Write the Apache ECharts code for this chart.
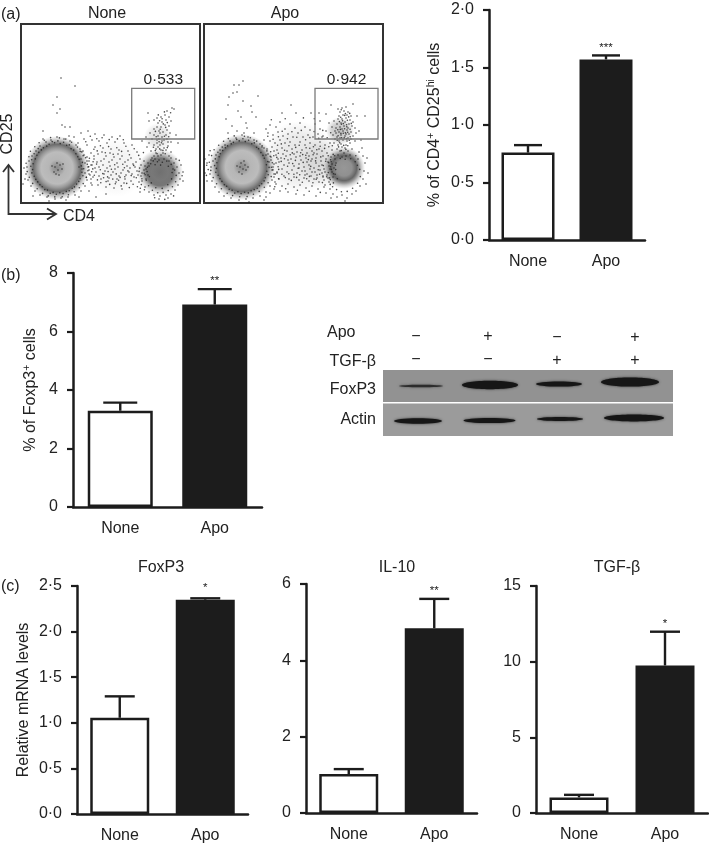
<!DOCTYPE html>
<html><head><meta charset="utf-8">
<script src="https://cdn.jsdelivr.net/npm/echarts@6/dist/echarts.min.js"></script>
<style>html,body{margin:0;padding:0;background:#fff}#c{width:709px;height:844px}</style>
</head><body><div id="c"></div>
<script>
const categories = ['None', 'Apo'];

const cd25Values = [0.76, 1.57];
const cd25Errors = [0.825, 1.605];
const cd25Ticks = ['0·0', '0·5', '1·0', '1·5', '2·0'];

const foxp3Pct = [3.29, 6.92];
const foxp3PctErrors = [3.57, 7.45];
const foxp3PctTicks = ['0', '2', '4', '6', '8'];

const foxp3Mrna = [1.055, 2.35];
const foxp3MrnaErrors = [1.29, 2.365];
const foxp3MrnaTicks = ['0·0', '0·5', '1·0', '1·5', '2·0', '2·5'];

const il10Mrna = [1.02, 4.84];
const il10MrnaErrors = [1.15, 5.61];
const il10Ticks = ['0', '2', '4', '6'];

const tgfMrna = [1.03, 9.75];
const tgfMrnaErrors = [1.2, 11.98];
const tgfTicks = ['0', '5', '10', '15'];

// flow cytometry: gates and population centres, in channel units
const gateNone = [110.7, 64, 173.7, 114.7];
const gateApo = [111, 64, 174, 114.7];
const mainNone = [36, 35, 32, 33];
const sideNone = [139, 31, 23, 28];
const mainApo = [38, 36, 34, 33];
const sideApo = [140, 35, 21, 27];
// diffuse density of events: x, y, rx, ry, density
const smearNone = [[95,36,48,30,.07],[137,66,14,28,.16]];
const smearApo = [[95,46,54,36,.14],[120,40,34,26,.12],[136,72,14,30,.32]];

// visible events estimated from the plots
const dotsNone = [
[40,125],[54,117],[36,106],[32,98],[39,94],[36,90],[41,78],[44,76],[22,72],[49,76],
[60,70],[67,72],[74,69],[83,68],[91,66],[99,67],[53,66],[63,64],[71,63],[78,62],[86,60],[94,61],[103,60],[111,58],[57,60],[66,58],[74,56],[82,55],[90,54],[98,53],[107,52],[116,51],
[62,52],[70,50],[77,49],[85,47],[93,46],[101,47],[110,45],[119,44],[66,46],[73,44],[80,42],[88,41],[96,40],[104,41],[112,39],[120,38],[64,40],[71,38],[78,36],[86,35],[94,34],[102,33],[109,35],[116,32],[123,33],
[68,33],[75,31],[83,29],[90,28],[98,27],[105,28],[113,26],[120,27],[72,26],[80,24],[87,22],[95,21],[103,20],[110,22],[118,21],[125,24],[70,20],[77,18],[85,16],[93,15],[101,14],[70,38],[74,35],[82,38],[84,32],[89,37],[92,31],[97,36],[100,30],[106,37],[108,31],[111,29],[114,36],[117,28],[121,30],[124,37],[127,28],[88,25],[96,24],[104,24],[78,27],[69,28],[64,30],[61,34],[76,41],[83,44],[91,43],[99,44],[107,43],[115,41],[60,44],[58,36],[68,42],[73,47],[81,51],[89,50],[97,49],
[119,11],[85,9],[68,12],[75,6],
[126,56],[130,52],[135,50],[140,48],[145,53],[150,51],[128,60],[133,58],[137,56],[142,59],[147,57],[131,64],[136,63],[141,62],[146,64],[150,61],[133,68],[137,67],[141,66],[145,68],[138,72],[142,71],[146,73],[149,70],[133,74],[136,76],[140,76],[144,78],[148,77],[137,80],[141,81],[145,83],[150,82],[133,83],[136,85],[140,86],[144,88],[148,86],[128,82],[127,90],[151,95],[146,92],[153,94],[121,62],[125,66],[129,70],[155,68],[157,60],[136,60],[138,64],[140,53],[143,55],[135,54],[139,70],[143,63],[147,61],[139,58],[142,50],[137,47],[133,47],[148,47],[150,45],[131,45],
[123,42],[127,40],[130,43],[134,44],[138,43],[143,44],[148,42],[153,40],[156,36],[158,30],[159,24],[157,18],[154,13],[150,9],[145,8],[139,7],[133,8],[128,11],[124,16],[121,22],[125,34],[128,37],[152,34],[155,44],[160,38],[162,31],[162,22],[147,5],[138,4],
[36,66],[30,63],[43,64],[25,61],[49,62],[19,57],[55,58],[15,52],[59,54],[11,47],[63,48],[8,42],[66,42],[6,36],[67,36],[5,29],[68,29],[7,23],[66,23],[10,17],[64,17],[14,12],[60,12],[19,8],[54,8],[26,6],[47,6],[34,4],[40,5],[22,64],[48,67],[4,24],[3,35],[2,19],[70,24],[71,18],[12,7],[58,6],[28,2],[45,3],
[34,36],[37,33],[39,38],[33,31],[41,34],[36,40],[31,37],[42,39],[35,29],[38,28],
[14.3,44.1],[17.8,50.6],[22.4,55.2],[28.1,58.7],[33.6,60.3],[39.2,59.4],[45.7,57.8],[50.1,54.2],[54.9,49.3],[58.2,43.7],[60.3,37.1],[60.9,30.8],[59.1,24.2],[55.6,18.9],[51.2,14.7],[45.3,11.6],[38.8,10.2],[32.1,10.6],[26.4,12.9],[21.2,16.3],[16.7,21.1],[13.2,26.8],[11.6,33.4],[12.1,39.2],
[15.9,47.7],[20.3,53.1],[25.7,56.9],[31.2,61.4],[36.9,62.1],[42.6,60.8],[48.3,58.1],[52.7,52.9],[56.8,46.2],[61.4,40.6],[62.7,34.2],[61.9,27.3],[57.8,21.6],[53.4,16.1],[48.2,12.3],[42.1,9.4],[35.3,8.7],[29.2,9.8],[23.8,13.4],[18.9,18.2],[14.8,23.6],[10.9,30.1],[9.8,36.7],[10.7,43.2],[13.1,49.3],[17.2,54.4],
[6.2,31.4],[5.1,39.8],[7.9,46.3],[9.4,51.7],[13.8,56.3],[18.1,60.2],[23.3,62.8],[29.6,65.4],[38.4,65.1],[44.8,63.9],[50.6,60.7],[56.4,55.9],[60.8,51.1],[64.6,45.2],[66.3,38.7],[66.9,32.3],[65.4,25.6],[62.2,19.4],[58.3,15.2],[53.1,11.2],[47.4,8.3],[41.2,6.2],[33.8,6.1],[27.2,7.1],[21.6,9.6],[16.2,14.3],[11.7,19.6],[8.3,25.7],
[68.4,44.7],[72.1,41.3],[75.6,38.9],[79.3,33.2],[81.8,29.4],[86.6,26.1],[90.4,33.7],[93.7,38.2],[95.2,29.1],[99.1,25.6],[101.8,38.7],[103.4,35.2],[106.9,32.1],[110.2,27.4],[112.7,37.6],[115.3,25.2],[118.6,34.9],[120.9,24.3],[123.2,29.8],[126.1,31.4],[70.7,31.2],[73.3,27.7],[76.4,23.1],[79.8,20.3],[82.6,25.3],[85.1,21.4],[88.7,18.6],[91.8,23.9],[94.3,19.2],[97.6,22.8],[100.2,17.1],[105.7,19.6],[108.3,15.4],[112.1,18.7],[116.4,16.2],[120.3,18.4],[65.3,25.8],[67.7,36.3],[72.9,53.8],[76.2,52.1],[79.4,57.3],[84.3,50.2],[87.6,56.4],[92.2,48.7],[95.8,55.3],[100.6,51.6],[104.9,56.7],[108.4,48.3],[113.2,54.2],[117.7,47.6],[122.4,50.4],[64.8,61.2],[69.3,66.7],[75.8,64.2],[81.1,65.3],[88.2,63.4],[96.4,64.1],[102.3,63.3],[62.1,47.3],[59.2,51.6],[71.8,34.1],[87.1,31.4],[103.8,26.3],[118.1,31.6],
[132.2,42.1],[136.4,41.2],[141.3,40.7],[145.8,41.9],[150.2,38.6],[153.7,32.9],[155.2,27.6],[154.6,21.3],[151.4,16.2],[147.2,12.4],[142.1,10.6],[136.7,10.3],[131.4,12.7],[127.6,17.2],[125.3,22.7],[124.1,28.3],[126.4,35.8],[129.7,39.2],[134.1,38.3],[139.6,37.9],[147.3,36.8],[151.1,30.4],[150.6,24.1],[146.8,18.3],[141.2,14.6],[134.8,15.3],[130.3,20.1],[128.4,26.4],[158.3,42.6],[161.1,27.3],[123.4,13.2],[119.3,14.8],[133.7,5.2],[143.8,3.6],[152.6,7.1],
[134.3,52.4],[138.7,54.1],[141.9,52.6],[144.2,49.3],[146.3,55.4],[136.1,49.2],[132.4,55.7],[140.4,60.3],[143.4,66.8],[135.2,66.2],[138.1,61.2],[147.7,66.3],[139.2,73.8],[134.4,71.6],[144.7,75.6],[142.3,79.1],[138.6,82.3],[146.3,80.4],[141.1,84.2],[143.4,91.1],[149.6,90.3],[137.3,88.1]
];

const dotsApo = [
[39,122],[30,118],[33,111],[25,106],[54,107],[39,102],[24,98],[34,92],[48,91],[22,84],[52,86],[42,80],[43,75],[87,98],[78,90],[92,90],[107,90],[127,98],[149,99],[153,87],[161,87],[115,90],[122,89],[35,118],[29,110],[47,97],[37,86],[28,77],[40,70],[33,72],
[62,74],[66,78],[72,76],[76,81],[81,74],[86,79],[91,75],[96,80],[101,76],[106,73],[111,79],[116,74],[64,70],[69,68],[74,71],[79,67],[84,69],[89,66],[94,70],[99,66],[104,68],[109,66],[114,69],[119,67],[60,63],[66,62],[71,60],[76,63],[81,60],[86,61],[91,58],[96,61],[101,58],[106,60],[111,58],[116,61],[121,58],[126,60],
[58,56],[63,54],[68,56],[73,53],[78,55],[83,52],[88,54],[93,51],[98,53],[103,50],[108,52],[113,49],[118,52],[123,50],[128,53],[62,48],[67,46],[72,48],[77,45],[82,47],[87,44],[92,46],[97,43],[102,45],[107,42],[112,45],[117,42],[122,44],[127,46],[131,44],
[65,41],[70,39],[75,41],[80,38],[85,40],[90,37],[95,39],[100,36],[105,38],[110,35],[115,37],[120,34],[125,37],[68,33],[73,31],[78,34],[83,31],[88,33],[93,30],[98,32],[103,29],[108,31],[113,28],[118,30],[123,28],[128,31],
[70,26],[75,24],[80,27],[85,24],[90,26],[95,23],[100,25],[105,22],[110,24],[115,21],[120,23],[125,21],[72,19],[78,17],[84,19],[90,16],[96,18],[102,15],[108,17],[114,14],[120,16],[76,12],[66,10],[84,11],[62,6],[92,9],[100,8],[112,7],[127,5],
[105,47],[110,50],[115,54],[119,47],[124,41],[112,40],[118,38],[108,44],[103,41],[96,47],[90,49],[84,43],[79,49],[74,44],[70,52],[95,35],[101,32],[106,34],[111,31],[116,33],[121,31],[126,34],[119,26],[113,25],[107,27],[101,28],[124,25],[129,26],[128,39],[130,35],[132,40],
[130,60],[134,58],[138,56],[142,58],[146,60],[131,64],[135,62],[139,63],[143,62],[147,64],[151,62],[129,68],[133,66],[137,68],[141,67],[145,69],[149,67],[131,72],[135,71],[139,72],[143,73],[147,71],[152,70],[128,76],[132,75],[136,76],[140,77],[144,75],[148,77],[151,75],[133,79],[137,80],[141,81],[145,79],[149,81],[130,82],[134,84],[138,84],[142,85],[146,83],[135,87],[139,88],[143,88],[147,87],[136,91],[140,92],[144,91],[134,94],[138,95],[142,96],[125,80],[122,72],[118,66],[116,82],[155,72],[157,63],[136,52],[140,50],[144,52],[134,48],[138,46],[142,47],[146,48],[137,59],[141,55],[133,54],[148,54],[132,70],[138,74],[142,69],[144,65],[136,65],
[122,10],[126,14],[129,9],[133,6],[138,8],[143,5],[148,9],[152,12],[156,17],[159,24],[160,32],[161,40],[159,47],[155,51],[121,18],[119,27],[154,44],[158,55],[163,45],[164,30],[162,19],[141,2],
[38,68],[32,65],[44,66],[26,62],[50,63],[21,58],[56,59],[16,53],[60,55],[12,48],[64,49],[9,42],[67,43],[7,36],[69,36],[6,29],[70,29],[8,22],[68,23],[11,16],[66,17],[15,11],[62,11],[20,7],[56,7],[27,5],[49,5],[35,3],[42,4],[3,40],[1,30],[3,22],[1,44],[5,48],[72,40],[73,30],[71,21],[70,14],[60,3],[45,1],[24,70],[50,70],
[36,36],[39,34],[41,38],[35,31],[42,33],[37,40],[33,37],[44,36],[38,29],[40,42],
[15.1,46.2],[18.7,52.4],[23.6,57.1],[29.4,60.6],[35.2,62.1],[41.3,61.4],[47.8,59.2],[52.6,55.8],[56.9,50.4],[60.3,44.7],[62.4,38.2],[62.8,31.7],[61.3,25.3],[57.7,19.2],[53.2,14.8],[47.1,12.3],[40.6,10.7],[33.9,11.2],[28.1,12.8],[22.6,16.7],[17.9,21.6],[14.1,27.8],[12.4,34.6],[12.9,40.3],
[16.3,49.3],[21.4,55.2],[27.2,59.1],[32.7,63.6],[38.9,64.2],[44.6,62.7],[50.3,60.1],[54.6,54.2],[58.9,47.6],[63.7,41.4],[65.1,35.6],[64.2,28.3],[60.1,22.1],[55.4,17.3],[50.2,13.4],[44.3,10.1],[37.1,9.4],[30.8,9.9],[25.2,13.7],[20.3,18.2],[15.9,24.3],[11.8,30.7],[10.6,37.4],[11.3,44.1],[13.9,50.7],[18.2,55.9],
[6.8,32.6],[5.3,40.7],[7.6,47.4],[10.1,53.2],[14.7,57.8],[19.6,61.7],[24.3,64.4],[30.2,67.1],[40.4,66.8],[46.3,65.2],[52.7,61.9],[58.1,57.3],[62.9,52.1],[66.2,46.8],[68.3,40.2],[68.9,33.1],[67.2,26.4],[64.1,20.2],[60.3,15.7],[55.2,11.6],[49.4,8.7],[43.1,6.4],[35.7,6.3],[28.6,7.4],[23.2,9.7],[17.4,14.2],[12.6,19.3],[9.2,25.4],[2.4,27.6],[4.2,33.4],[2.7,37.8],[6.1,52.3],[74.1,36.2],[74.6,24.3],[72.8,45.6],
[66.7,51.2],[69.8,47.3],[74.3,49.8],[77.2,41.6],[80.4,44.2],[83.6,36.7],[86.2,48.3],[88.7,39.4],[91.4,42.6],[94.1,34.8],[96.7,50.2],[99.2,40.6],[101.8,47.7],[104.3,43.4],[106.7,36.6],[109.1,48.2],[111.6,42.1],[114.2,33.2],[116.8,46.1],[119.3,37.4],[121.7,41.8],[124.2,47.3],[126.6,36.2],[129.2,48.6],[131.4,37.7],[67.4,35.8],[71.2,28.9],[74.7,33.6],[77.9,28.7],[81.3,25.4],[84.8,29.2],[87.3,22.6],[89.9,28.7],[92.6,25.6],[95.7,28.3],[98.3,20.7],[102.7,24.2],[105.4,26.6],[108.9,20.2],[112.2,23.7],[115.6,28.7],[118.4,20.4],[122.7,26.3],[126.3,23.4],[129.6,29.3],[131.7,33.4],[73.6,57.8],[77.3,59.1],[80.6,52.8],[84.9,57.2],[88.3,50.1],[91.7,55.6],[95.2,57.7],[98.7,48.4],[102.1,55.3],[105.8,54.7],[109.4,56.2],[112.8,53.3],[116.2,56.7],[120.6,54.6],[124.8,56.3],[128.3,57.2],[69.1,63.7],[74.4,66.2],[78.2,71.7],[83.4,64.3],[87.9,71.3],[92.8,65.7],[97.3,72.6],[101.6,63.2],[105.9,65.4],[110.1,71.4],[114.7,64.6],[118.8,72.6],[123.2,65.3],[126.7,70.2],[70.8,16.2],[81.7,14.3],[93.4,12.7],[105.2,11.8],[116.3,10.6],[63.8,66.7],[67.3,83.2],[81.2,84.3],[99.4,85.1],[110.3,84.2],
[127.2,41.3],[131.2,28.7],[133.3,24.2],[129.4,20.1],[126.2,18.6],[124.3,30.4],[151.2,41.2],[155.7,33.6],[156.3,26.4],[153.6,19.8],[148.6,14.7],[143.2,11.6],[137.4,11.2],[132.6,13.4],[128.6,16.3],[125.6,25.1],[126.6,43.2],[130.7,47.3],[136.2,44.6],[141.2,43.8],[146.7,44.3],[151.8,47.2],[153.4,37.8],[127.3,33.6],[124.7,40.2],
[134.6,56.1],[137.3,52.4],[139.7,57.6],[141.9,53.6],[143.8,57.3],[135.7,60.2],[133.2,62.7],[137.6,65.3],[140.2,65.1],[142.6,64.2],[145.3,62.8],[134.1,67.3],[136.9,69.6],[139.3,69.7],[141.4,70.3],[143.7,70.8],[146.2,66.3],[133.8,73.3],[136.3,73.6],[140.6,74.2],[142.8,76.3],[146.1,73.8],[137.4,78.7],[139.3,79.4],[142.6,78.2],[135.4,81.4],[138.6,82.3],[143.4,82.7],[147.3,79.6],[136.7,85.7],[140.7,87.6],[144.7,86.1],[137.2,93.2],[141.4,89.4],[145.7,89.6]
];

// blot bands: x, y, half width, half height, darkness, in panel pixels of the membrane
const foxp3Bands = [[38,16,22,1.3,.72],[107,15,28,4.2,1],[176,14,23,2.6,1],[247,12,29,4.6,1]];
const actinBands = [[35,17.5,24,2.7,1],[106.5,17,26,2.6,1],[177,15.5,23,2,1],[251,14.5,30,3.4,1]];

const ink = '#1c1c1c';
const font = '"Liberation Sans", Arial, sans-serif';

const grids = [], xAxes = [], yAxes = [], series = [];

function barPanel(o) {
  const idx = grids.length;
  grids.push({left:o.left, top:o.top, width:o.width, height:o.height});
  xAxes.push({gridIndex:idx, type:'category', data:categories,
    axisLine:{onZero:false, lineStyle:{color:ink,width:2.5}},
    axisTick:{alignWithLabel:true,length:6,lineStyle:{color:ink,width:2.2}},
    axisLabel:{color:'#222',fontFamily:font,fontSize:16,margin:o.xMargin||14}, splitLine:{show:false}});
  yAxes.push({gridIndex:idx, type:'value', min:0, max:o.max, interval:o.max/(o.ticks.length-1),
    axisLine:{show:true,lineStyle:{color:ink,width:2.5}},
    axisTick:{show:true,length:6,lineStyle:{color:ink,width:2.2}},
    splitLine:{show:false},
    axisLabel:{color:'#222',fontFamily:font,fontSize:16,margin:o.yMargin||15,
      formatter:(v)=>o.ticks[Math.round(v/(o.max/(o.ticks.length-1)))]},
    name:o.name||'', nameLocation:'middle', nameRotate:90, nameGap:o.nameGap||40,
    nameTextStyle:{color:'#222',fontFamily:font,fontSize:16,rich:{
      t:{fontFamily:font,fontSize:16,color:'#222'},
      s:{fontFamily:font,fontSize:10.5,color:'#222',verticalAlign:'top',lineHeight:18}}}
  });
  series.push({type:'bar', xAxisIndex:idx, yAxisIndex:idx, barWidth:o.barWidth, silent:true,
    data:o.values.map((v,i)=>({value:v,itemStyle: i===0
      ? {color:'#fff',borderColor:ink,borderWidth:2.5}
      : {color:ink,borderColor:ink,borderWidth:2.5}}))});
  series.push({type:'custom', xAxisIndex:idx, yAxisIndex:idx, silent:true, z:1,
    data:o.values.map((v,i)=>[i,v,o.errors[i]]),
    renderItem:(p,api)=>{
      const a=api.coord([api.value(0),api.value(1)]), b=api.coord([api.value(0),api.value(2)]);
      const st={stroke:ink,lineWidth:2.4,fill:null};
      const ch=[
        {type:'line',shape:{x1:a[0],y1:a[1],x2:b[0],y2:b[1]},style:st},
        {type:'line',shape:{x1:b[0]-o.cap/2,y1:b[1],x2:b[0]+o.cap/2,y2:b[1]},style:st}];
      if(api.value(0)===1) ch.push({type:'text',style:{text:o.star,x:b[0],y:b[1]-(o.starGap||2),
        fill:'#222',fontFamily:font,fontSize:11.5,align:'center',verticalAlign:'bottom'}});
      return {type:'group',children:ch};
    }});
}

barPanel({left:489,top:10,width:156,height:230,max:2,ticks:cd25Ticks,values:cd25Values,errors:cd25Errors,
  barWidth:53,cap:28,star:'***',name:'{t|% of CD4}{s|+}{t| CD25}{s|hi}{t| cells}',nameGap:45});
barPanel({left:73,top:273,width:189,height:234,max:8,ticks:foxp3PctTicks,values:foxp3Pct,errors:foxp3PctErrors,
  barWidth:65,cap:34,star:'**',name:'{t|% of Foxp3}{s|+}{t| cells}',nameGap:33});
barPanel({left:77,top:586,width:171,height:229,max:2.5,ticks:foxp3MrnaTicks,values:foxp3Mrna,errors:foxp3MrnaErrors,
  barWidth:59,cap:30,star:'*',starGap:4,name:'{t|Relative mRNA levels}',nameGap:45});
barPanel({left:306,top:584,width:171,height:229,max:6,ticks:il10Ticks,values:il10Mrna,errors:il10MrnaErrors,
  barWidth:59,cap:30,star:'**'});
barPanel({left:536,top:586,width:172,height:227,max:15,ticks:tgfTicks,values:tgfMrna,errors:tgfMrnaErrors,
  barWidth:59,cap:30,star:'*'});

const ringGrad={type:'radial',x:.5,y:.5,r:.5,colorStops:[
  {offset:0,color:'#8a8a8a'},{offset:.14,color:'#9c9c9c'},{offset:.26,color:'#b6b6b6'},{offset:.5,color:'#bcbcbc'},
  {offset:.62,color:'#999'},{offset:.74,color:'#6c6c6c'},{offset:.86,color:'rgba(90,90,90,.4)'},{offset:1,color:'rgba(120,120,120,0)'}]};
const sideGrad={type:'radial',x:.5,y:.5,r:.5,colorStops:[
  {offset:0,color:'#707070'},{offset:.36,color:'#787878'},{offset:.6,color:'rgba(85,85,85,.8)'},{offset:.8,color:'rgba(90,90,90,.3)'},{offset:1,color:'rgba(120,120,120,0)'}]};
const sideGradApo={type:'radial',x:.5,y:.5,r:.5,colorStops:[
  {offset:0,color:'#979797'},{offset:.38,color:'#909090'},{offset:.6,color:'#666'},{offset:.8,color:'rgba(70,70,70,.35)'},{offset:1,color:'rgba(120,120,120,0)'}]};

function flowPanel(o){
  const idx=grids.length;
  grids.push({left:o.left,top:24,width:179,height:179,show:true,backgroundColor:'#fff',borderColor:'#333',borderWidth:2,z:3});
  xAxes.push({gridIndex:idx,type:'value',min:0,max:179,show:false});
  yAxes.push({gridIndex:idx,type:'value',min:0,max:179,show:false});
  const common={xAxisIndex:idx,yAxisIndex:idx,silent:true,clip:true,z:4};
  series.push(Object.assign({type:'custom',data:o.smear,
    renderItem:(p,api)=>{
      const c=api.coord([api.value(0),api.value(1)]), s=api.size([api.value(2),api.value(3)]);
      const d=api.value(4);
      return {type:'ellipse',shape:{cx:c[0],cy:c[1],rx:s[0],ry:s[1]},
        style:{fill:{type:'radial',x:.5,y:.5,r:.5,colorStops:[
          {offset:0,color:'rgba(60,60,60,'+d+')'},{offset:.6,color:'rgba(60,60,60,'+d*.7+')'},{offset:1,color:'rgba(60,60,60,0)'}]}}};
    }},common));
  series.push(Object.assign({type:'custom',data:[o.main,o.side],
    renderItem:(p,api)=>{
      const c=api.coord([api.value(0),api.value(1)]), s=api.size([api.value(2),api.value(3)]);
      return {type:'ellipse',shape:{cx:c[0],cy:c[1],rx:s[0],ry:s[1]},
        style:{fill:p.dataIndex===0?ringGrad:o.sideGrad}};
    }},common));
  series.push(Object.assign({type:'scatter',data:o.dots,symbolSize:1.6,
    itemStyle:{color:'#1e1e1e',opacity:.8}},common,{z:5}));
  series.push(Object.assign({type:'custom',data:[o.gate],
    renderItem:(p,api)=>{
      const a=api.coord([api.value(0),api.value(3)]), b=api.coord([api.value(2),api.value(1)]);
      return {type:'group',children:[
        {type:'rect',shape:{x:a[0],y:a[1],width:b[0]-a[0],height:b[1]-a[1]},style:{fill:'rgba(0,0,0,0)',stroke:'#7a7a7a',lineWidth:1.3}},
        {type:'text',style:{text:o.label,x:(a[0]+b[0])/2,y:a[1]-1,fill:'#222',fontFamily:font,fontSize:15.5,align:'center',verticalAlign:'bottom'}}
      ]};
    }},common,{z:6}));
}
flowPanel({left:21,main:mainNone,side:sideNone,sideGrad,dots:dotsNone,gate:gateNone,smear:smearNone,label:'0·533'});
flowPanel({left:204,main:mainApo,side:sideApo,sideGrad:sideGradApo,dots:dotsApo,gate:gateApo,smear:smearApo,label:'0·942'});

function blotPanel(top,h,bands,bg){
  const idx=grids.length;
  grids.push({left:383,top:top,width:290,height:h,show:true,backgroundColor:bg,borderWidth:0});
  xAxes.push({gridIndex:idx,type:'value',min:0,max:290,show:false});
  yAxes.push({gridIndex:idx,type:'value',min:0,max:h,inverse:true,show:false});
  series.push({type:'custom',xAxisIndex:idx,yAxisIndex:idx,silent:true,data:bands,
    renderItem:(p,api)=>{
      const c=api.coord([api.value(0),api.value(1)]), s=api.size([api.value(2),api.value(3)]);
      return {type:'ellipse',shape:{cx:c[0],cy:c[1],rx:s[0],ry:s[1]},
        style:{fill:'#161616',opacity:api.value(4),shadowBlur:2.5,shadowColor:'rgba(20,20,20,.75)'}};
    }});
}
blotPanel(370,32,foxp3Bands,'#929292');
blotPanel(403.5,32.5,actinBands,'#9b9b9b');

const txt=(text,x,y,extra)=>({type:'text',x,y,silent:true,style:Object.assign({text,fill:'#222',fontFamily:font,fontSize:16,align:'center',verticalAlign:'middle'},extra||{})});
const arrow=[
  {type:'polyline',silent:true,shape:{points:[[8.5,165],[8.5,214],[55,214]]},style:{stroke:'#333',lineWidth:1.8,fill:null}},
  {type:'polyline',silent:true,shape:{points:[[3,172],[8.5,165],[14,172]]},style:{stroke:'#333',lineWidth:1.8,fill:null}},
  {type:'polyline',silent:true,shape:{points:[[47,208.5],[56,214],[47,219.5]]},style:{stroke:'#333',lineWidth:1.8,fill:null}}
];
const graphicItems=[
  txt('(a)',1,15,{align:'left'}), txt('(b)',1,276,{align:'left'}), txt('(c)',1,587,{align:'left'}),
  txt('None',107,14), txt('Apo',285,14),
  Object.assign(txt('CD25',8,134),{rotation:Math.PI/2}),
  txt('CD4',79,217),
  txt('FoxP3',161,568), txt('IL-10',397,568), txt('TGF-β',617,568),
  txt('Apo',327,333,{align:'left'}), txt('TGF-β',376,362,{align:'right'}),
  txt('FoxP3',376,390,{align:'right'}), txt('Actin',376,420,{align:'right'}),
  txt('−',416,337), txt('+',488,337), txt('−',557,338), txt('+',635,338),
  txt('−',416,360), txt('−',488,360), txt('+',557,361), txt('+',635,361)
].concat(arrow);

const chart=echarts.init(document.getElementById('c'),null,{renderer:'canvas'});
chart.setOption({animation:false,backgroundColor:'#fff',grid:grids,xAxis:xAxes,yAxis:yAxes,series,
  graphic:{elements:graphicItems}});
</script></body></html>
